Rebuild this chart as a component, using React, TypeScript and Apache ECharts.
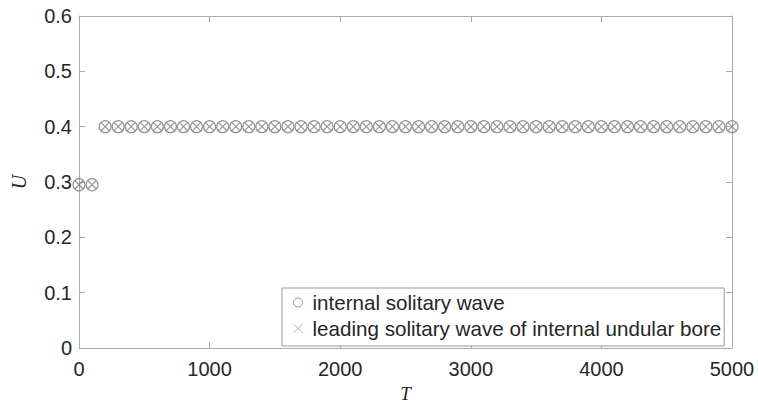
import React, { useEffect, useRef } from "react";
import * as echarts from "echarts";

const tValues: number[] = [
  0, 100, 200, 300, 400, 500, 600, 700, 800, 900,
  1000, 1100, 1200, 1300, 1400, 1500, 1600, 1700, 1800, 1900,
  2000, 2100, 2200, 2300, 2400, 2500, 2600, 2700, 2800, 2900,
  3000, 3100, 3200, 3300, 3400, 3500, 3600, 3700, 3800, 3900,
  4000, 4100, 4200, 4300, 4400, 4500, 4600, 4700, 4800, 4900,
  5000,
];

const uSolitary: number[] = [
  0.295, 0.295, 0.4, 0.4, 0.4, 0.4, 0.4, 0.4, 0.4, 0.4,
  0.4, 0.4, 0.4, 0.4, 0.4, 0.4, 0.4, 0.4, 0.4, 0.4,
  0.4, 0.4, 0.4, 0.4, 0.4, 0.4, 0.4, 0.4, 0.4, 0.4,
  0.4, 0.4, 0.4, 0.4, 0.4, 0.4, 0.4, 0.4, 0.4, 0.4,
  0.4, 0.4, 0.4, 0.4, 0.4, 0.4, 0.4, 0.4, 0.4, 0.4,
  0.4,
];

const uLeading: number[] = [
  0.295, 0.295, 0.4, 0.4, 0.4, 0.4, 0.4, 0.4, 0.4, 0.4,
  0.4, 0.4, 0.4, 0.4, 0.4, 0.4, 0.4, 0.4, 0.4, 0.4,
  0.4, 0.4, 0.4, 0.4, 0.4, 0.4, 0.4, 0.4, 0.4, 0.4,
  0.4, 0.4, 0.4, 0.4, 0.4, 0.4, 0.4, 0.4, 0.4, 0.4,
  0.4, 0.4, 0.4, 0.4, 0.4, 0.4, 0.4, 0.4, 0.4, 0.4,
  0.4,
];

const seriesNames = [
  "internal solitary wave",
  "leading solitary wave of internal undular bore",
];

const CROSS = "path://M0,0L10,10M10,0L0,10";
const AXIS_COLOR = "#aaaaaa";
const TEXT_COLOR = "#262626";
const MARK_COLOR = "#7a7a7a";
const SANS = "Liberation Sans, Arial, sans-serif";
const SERIF = "Liberation Serif, DejaVu Serif, serif";

export default function App() {
  const ref = useRef<HTMLDivElement>(null);
  useEffect(() => {
    if (!ref.current) return;
    const chart = echarts.init(ref.current, undefined, { renderer: "svg" });
    const axisCommon = {
      axisLine: { show: true, onZero: false, lineStyle: { color: AXIS_COLOR, width: 1 } },
      axisTick: { show: true, inside: true, length: 6, lineStyle: { color: AXIS_COLOR } },
      splitLine: { show: false },
    };
    chart.setOption({
      animation: false,
      backgroundColor: "#ffffff",
      grid: {
        left: 79,
        right: 26,
        top: 16,
        bottom: 55,
        containLabel: false,
        outerBoundsMode: "none",
      },
      legend: {
        orient: "vertical",
        left: 282,
        top: 288,
        backgroundColor: "#ffffff",
        borderColor: "#999999",
        borderWidth: 1,
        padding: [4, 3, 7, 9],
        itemGap: 5,
        itemWidth: 9,
        itemHeight: 9,
        textStyle: {
          fontFamily: SANS,
          fontSize: 20.6,
          color: TEXT_COLOR,
          padding: [0, 0, 0, 5],
        },
        data: [
          {
            name: seriesNames[0],
            icon: "circle",
            itemStyle: { color: "rgba(255,255,255,0)", borderColor: MARK_COLOR, borderWidth: 1 },
          },
          {
            name: seriesNames[1],
            icon: CROSS,
            itemStyle: { color: "none", borderColor: "#999999", borderWidth: 1 },
          },
        ],
      },
      xAxis: [
        {
          type: "value",
          min: 0,
          max: 5000,
          interval: 1000,
          position: "bottom",
          name: "T",
          nameLocation: "middle",
          nameGap: 31,
          nameTextStyle: {
            fontFamily: SERIF,
            fontStyle: "italic",
            fontSize: 19,
            color: TEXT_COLOR,
          },
          axisLabel: {
            fontFamily: SANS,
            fontSize: 20,
            color: TEXT_COLOR,
            margin: 11,
            formatter: (v: number) => String(v),
          },
          ...axisCommon,
        },
        {
          type: "value",
          min: 0,
          max: 5000,
          interval: 1000,
          position: "top",
          axisLabel: { show: false },
          ...axisCommon,
        },
      ],
      yAxis: [
        {
          type: "value",
          min: 0,
          max: 0.6,
          interval: 0.1,
          position: "left",
          name: "U",
          nameLocation: "middle",
          nameRotate: 90,
          nameGap: 50,
          nameTextStyle: {
            fontFamily: SERIF,
            fontStyle: "italic",
            fontSize: 20,
            color: TEXT_COLOR,
          },
          axisLabel: {
            fontFamily: SANS,
            fontSize: 20,
            color: TEXT_COLOR,
            margin: 7,
            formatter: (v: number) => (v === 0 ? "0" : v.toFixed(1)),
          },
          ...axisCommon,
        },
        {
          type: "value",
          min: 0,
          max: 0.6,
          interval: 0.1,
          position: "right",
          axisLabel: { show: false },
          ...axisCommon,
        },
      ],
      series: [
        {
          name: seriesNames[0],
          type: "scatter",
          symbol: "circle",
          symbolSize: 12,
          itemStyle: { color: "rgba(255,255,255,0)", borderColor: MARK_COLOR, borderWidth: 1.2 },
          data: tValues.map((t, i) => [t, uSolitary[i]]),
          z: 2,
        },
        {
          name: seriesNames[1],
          type: "scatter",
          symbol: CROSS,
          symbolSize: 8,
          itemStyle: { color: "none", borderColor: MARK_COLOR, borderWidth: 1.2 },
          data: tValues.map((t, i) => [t, uLeading[i]]),
          z: 3,
        },
      ],
    });
    return () => chart.dispose();
  }, []);
  return (
    <div
      ref={ref}
      style={{ position: "absolute", left: 0, top: 0, width: 758, height: 403 }}
    />
  );
}
